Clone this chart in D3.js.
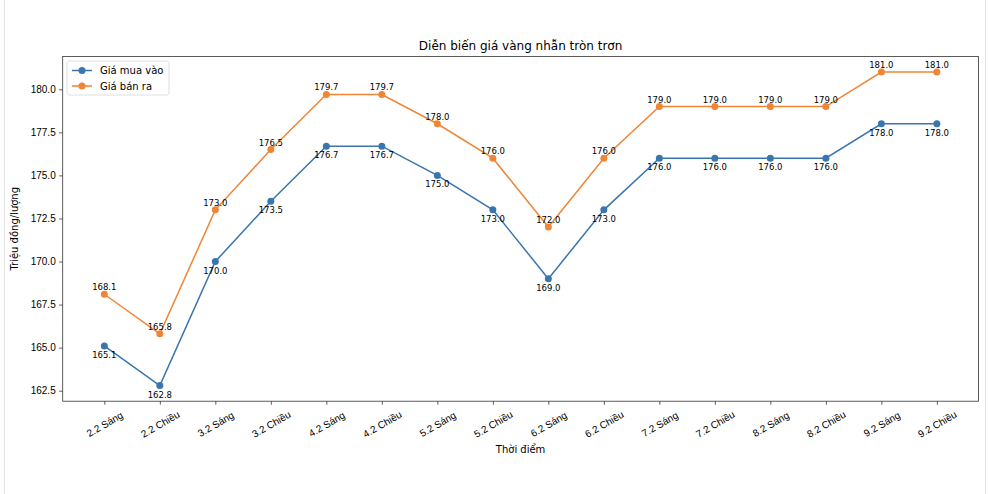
<!DOCTYPE html>
<html><head><meta charset="utf-8">
<script src="https://cdn.jsdelivr.net/npm/d3@7"></script>
<style>body{margin:0;background:#fff}svg{display:block;font-family:"DejaVu Sans",sans-serif}</style>
</head><body><svg id="c" width="988" height="494"></svg>
<script>
const categories = ["2.2 Sáng","2.2 Chiều","3.2 Sáng","3.2 Chiều","4.2 Sáng","4.2 Chiều","5.2 Sáng","5.2 Chiều","6.2 Sáng","6.2 Chiều","7.2 Sáng","7.2 Chiều","8.2 Sáng","8.2 Chiều","9.2 Sáng","9.2 Chiều"];
const buyValues = [165.1,162.8,170.0,173.5,176.7,176.7,175.0,173.0,169.0,173.0,176.0,176.0,176.0,176.0,178.0,178.0];
const sellValues = [168.1,165.8,173.0,176.5,179.7,179.7,178.0,176.0,172.0,176.0,179.0,179.0,179.0,179.0,181.0,181.0];
const yTicks = [162.5,165.0,167.5,170.0,172.5,175.0,177.5,180.0];
const seriesNames = ["Giá mua vào","Giá bán ra"];
const colors = ["#3a75ae","#ef8535"];

const svg = d3.select("#c");
const L=62.7, R=978.5, T=56.4, B=401.2;
// frame
svg.append("line").attr("x1",4.5).attr("x2",4.5).attr("y1",0).attr("y2",494).attr("stroke","#e3e3e3");
svg.append("line").attr("x1",985.5).attr("x2",985.5).attr("y1",0).attr("y2",494).attr("stroke","#e3e3e3");

const n = categories.length;
const x = d3.scaleLinear().domain([-0.75, n-1+0.75]).range([L,R]);
const allV = buyValues.concat(sellValues);
const mn = d3.min(allV), mx = d3.max(allV), pad=(mx-mn)*0.05;
const y = d3.scaleLinear().domain([mn-pad, mx+pad]).range([B,T]);

// axes
const xa = svg.append("g").attr("transform",`translate(0,${B})`)
  .call(d3.axisBottom(x).tickValues(d3.range(n)).tickFormat(i=>categories[i]).tickSize(3.5).tickPadding(3));
xa.selectAll("text").attr("font-size",10).attr("fill","#000")
  .attr("text-anchor","middle").attr("dy","0.35em").attr("y",0)
  .attr("transform","translate(0,23) rotate(-30)");
const ya = svg.append("g").attr("transform",`translate(${L},0)`)
  .call(d3.axisLeft(y).tickValues(yTicks).tickFormat(d3.format(".1f")).tickSize(3.5).tickPadding(3.5));
ya.selectAll("text").attr("font-size",10).attr("fill","#000");
[xa,ya].forEach(a=>{a.select(".domain").remove();a.selectAll("line").attr("stroke","#333").attr("stroke-width",0.8);});
svg.append("rect").attr("x",L).attr("y",T).attr("width",R-L).attr("height",B-T)
  .attr("fill","none").attr("stroke","#333").attr("stroke-width",0.8);

// title & labels
svg.append("text").attr("x",(L+R)/2).attr("y",50).attr("text-anchor","middle").attr("font-size",12).text("Diễn biến giá vàng nhẫn tròn trơn");
svg.append("text").attr("x",(L+R)/2).attr("y",453).attr("text-anchor","middle").attr("font-size",10).text("Thời điểm");
svg.append("text").attr("transform",`translate(18,${(T+B)/2}) rotate(-90)`).attr("text-anchor","middle").attr("font-size",10).text("Triệu đồng/lượng");

const series = [buyValues, sellValues];
const line = d3.line().x((d,i)=>x(i)).y(d=>y(d));
series.forEach((vals,k)=>{
  svg.append("path").datum(vals).attr("d",line).attr("fill","none").attr("stroke",colors[k]).attr("stroke-width",1.5);
  svg.append("g").selectAll("circle").data(vals).join("circle")
    .attr("cx",(d,i)=>x(i)).attr("cy",d=>y(d)).attr("r",3.5).attr("fill",colors[k]);
});
// annotations
svg.append("g").selectAll("text").data(buyValues).join("text")
  .attr("x",(d,i)=>x(i)).attr("y",d=>y(d)+12).attr("text-anchor","middle").attr("font-size",8.5).attr("fill","#000")
  .text(d=>d.toFixed(1));
svg.append("g").selectAll("text").data(sellValues).join("text")
  .attr("x",(d,i)=>x(i)).attr("y",d=>y(d)-4).attr("text-anchor","middle").attr("font-size",8.5).attr("fill","#000")
  .text(d=>d.toFixed(1));

// legend
const lg = svg.append("g").attr("transform","translate(67,61)");
lg.append("rect").attr("width",102).attr("height",34).attr("rx",2).attr("fill","#fff").attr("fill-opacity",0.8).attr("stroke","#d6d6d6").attr("stroke-width",0.8);
seriesNames.forEach((s,k)=>{
  const yy = 9.5 + k*15.5;
  lg.append("line").attr("x1",5).attr("x2",25).attr("y1",yy).attr("y2",yy).attr("stroke",colors[k]).attr("stroke-width",1.5);
  lg.append("circle").attr("cx",15).attr("cy",yy).attr("r",3.5).attr("fill",colors[k]);
  lg.append("text").attr("x",33).attr("y",yy+3.5).attr("font-size",10).text(s);
});
</script></body></html>
